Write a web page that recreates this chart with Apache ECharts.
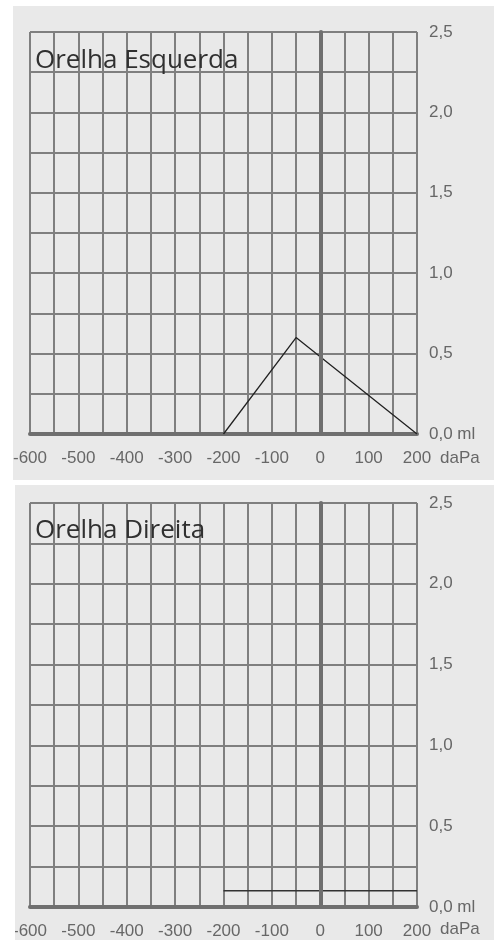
<!DOCTYPE html>
<html>
<head>
<meta charset="utf-8">
<script src="https://cdn.jsdelivr.net/npm/echarts@6/dist/echarts.min.js"></script>
<style>
html,body{margin:0;padding:0;background:#fff;}
#chart{width:494px;height:943px;}
</style>
</head>
<body>
<div id="chart"></div>
<script>
// Data
const panelTitles = ['Orelha Esquerda', 'Orelha Direita'];
const pressureUnit = 'daPa';
const pressureTicks = [-600, -500, -400, -300, -200, -100, 0, 100, 200];
const volumeTicks = ['0,0 ml', '0,5', '1,0', '1,5', '2,0', '2,5'];
const leftEarPressure = [-200, -50, 200];
const leftEarVolume = [0, 0.6, 0];
const rightEarPressure = [-200, 200];
const rightEarVolume = [0.1, 0.1];

const gridColor = '#7f7f7f';
const thickColor = '#6f6f6f';
const labelColor = '#676767';

function xAxisCfg(idx) {
  return {
    type: 'value', gridIndex: idx, min: -600, max: 200, interval: 50,
    axisLine: {show: true, onZero: false, lineStyle: {color: thickColor, width: 4}},
    axisTick: {show: false},
    splitLine: {show: true, lineStyle: {color: gridColor, width: 2}},
    axisLabel: {
      formatter: v => pressureTicks.indexOf(v) >= 0 ? String(v) : '',
      color: labelColor, fontSize: 17, fontFamily: 'Liberation Sans', margin: 16,
      showMinLabel: true, showMaxLabel: true, hideOverlap: false
    }
  };
}
function yAxisCfg(idx) {
  return {
    type: 'value', gridIndex: idx, min: 0, max: 2.5, interval: 0.25, position: 'right',
    axisLine: {show: true, lineStyle: {color: thickColor, width: 4}},
    axisTick: {show: false},
    splitLine: {show: true, lineStyle: {color: gridColor, width: 2}},
    axisLabel: {
      formatter: v => {
        const k = Math.round(v * 100);
        return k % 50 === 0 ? volumeTicks[k / 50] : '';
      },
      color: labelColor, fontSize: 17, fontFamily: 'Liberation Sans', margin: 12,
      showMinLabel: true, showMaxLabel: true, hideOverlap: false
    }
  };
}
function zeroLine() {
  return {
    silent: true, symbol: 'none', label: {show: false},
    lineStyle: {color: thickColor, width: 4, type: 'solid'},
    data: [{xAxis: 0}]
  };
}
const unitStyle = {fill: labelColor, font: '17px "Liberation Sans"', textVerticalAlign: 'middle'};
const titleStyle = {fill: '#303030', font: '26px "Open Sans"', textVerticalAlign: 'middle'};

const chart = echarts.init(document.getElementById('chart'), null, {renderer: 'canvas'});
chart.setOption({
  animation: false,
  backgroundColor: '#ffffff',
  graphic: [
    {type: 'rect', shape: {x: 13, y: 6, width: 481, height: 474}, style: {fill: '#e9e9e9'}, z: -10},
    {type: 'rect', shape: {x: 14, y: 485, width: 480, height: 455}, style: {fill: '#e9e9e9'}, z: -10},
    {type: 'rect', shape: {x: 0, y: 0, width: 13, height: 482}, style: {fill: '#ffffff'}, z: 100},
    {type: 'rect', shape: {x: 0, y: 482, width: 15, height: 461}, style: {fill: '#ffffff'}, z: 100},
    {type: 'text', x: 35, y: 61, style: Object.assign({text: panelTitles[0]}, titleStyle), z: 50},
    {type: 'text', x: 35, y: 531, style: Object.assign({text: panelTitles[1]}, titleStyle), z: 50},
    {type: 'text', x: 440, y: 458, style: Object.assign({text: pressureUnit}, unitStyle), z: 50},
    {type: 'text', x: 440, y: 929, style: Object.assign({text: pressureUnit}, unitStyle), z: 50}
  ],
  grid: [
    {left: 30, right: 77, top: 32, height: 402, outerBoundsMode: 'none', containLabel: false},
    {left: 30, right: 77, top: 503, height: 404, outerBoundsMode: 'none', containLabel: false}
  ],
  xAxis: [xAxisCfg(0), xAxisCfg(1)],
  yAxis: [yAxisCfg(0), yAxisCfg(1)],
  series: [
    {
      type: 'line', xAxisIndex: 0, yAxisIndex: 0, symbol: 'none',
      lineStyle: {color: '#222', width: 1.3},
      data: leftEarPressure.map((p, i) => [p, leftEarVolume[i]]),
      markLine: zeroLine(), z: 3
    },
    {
      type: 'line', xAxisIndex: 1, yAxisIndex: 1, symbol: 'none',
      lineStyle: {color: '#333', width: 1.5},
      data: rightEarPressure.map((p, i) => [p, rightEarVolume[i]]),
      markLine: zeroLine(), z: 3
    }
  ]
});
</script>
</body>
</html>
